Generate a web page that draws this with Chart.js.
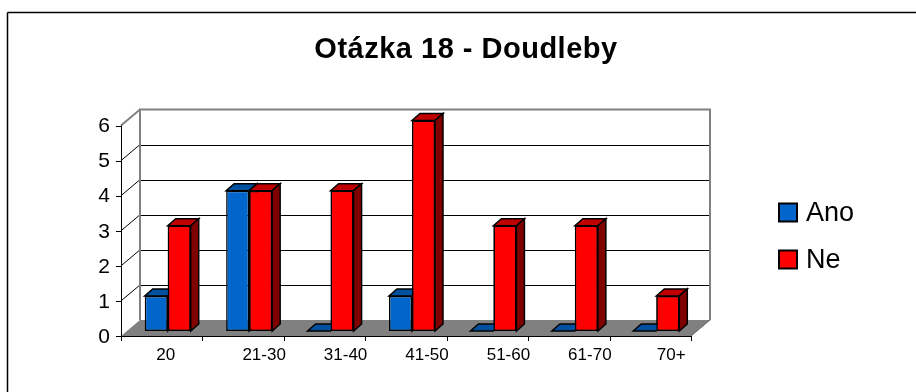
<!DOCTYPE html>
<html>
<head>
<meta charset="utf-8">
<title>Otázka 18 - Doudleby</title>
<script src="https://cdn.jsdelivr.net/npm/chart.js@4.4.1/dist/chart.umd.min.js"></script>
<style>
  html, body { margin: 0; padding: 0; background: #fff; }
  canvas { display: block; }
</style>
</head>
<body>
<canvas id="chart" width="916" height="392"></canvas>
<script>
// Age groups and answer counts
const categories = ['20', '21-30', '31-40', '41-50', '51-60', '61-70', '70+'];
const anoValues = [1, 4, 0, 1, 0, 0, 0];
const neValues = [3, 4, 4, 6, 3, 3, 1];
const yTicks = [0, 1, 2, 3, 4, 5, 6];
const seriesNames = ['Ano', 'Ne'];
const chartTitle = 'Otázka 18 - Doudleby';

// 3D look: offsets of the front and back planes relative to the bar plane,
// and the depth of each bar
const FRONT = { dx: -6, dy: 5 };
const BACK = { dx: 13, dy: -11 };
const BAR_DEPTH = { dx: 8, dy: -7 };
// the first category label sits nearer the value axis than the others
const FIRST_LABEL_SHIFT = -17;

const faceColors = [
  { front: '#0066CC', top: '#0050A0', side: '#003366' },
  { front: '#FF0000', top: '#C00000', side: '#800000' }
];

function poly(ctx, pts, fill, stroke, lw) {
  ctx.beginPath();
  ctx.moveTo(pts[0][0], pts[0][1]);
  for (let i = 1; i < pts.length; i++) ctx.lineTo(pts[i][0], pts[i][1]);
  ctx.closePath();
  if (fill) { ctx.fillStyle = fill; ctx.fill(); }
  if (stroke) { ctx.strokeStyle = stroke; ctx.lineWidth = lw || 1; ctx.lineJoin = 'miter'; ctx.stroke(); }
}

function line(ctx, x1, y1, x2, y2, color, lw) {
  ctx.beginPath();
  ctx.moveTo(x1, y1);
  ctx.lineTo(x2, y2);
  ctx.strokeStyle = color;
  ctx.lineWidth = lw;
  ctx.stroke();
}

// top and right faces of one bar element
function drawBarDepth(ctx, bar, cols) {
  const p = bar.getProps(['x', 'y', 'base', 'width'], true);
  const l = p.x - p.width / 2, r = p.x + p.width / 2;
  const t = Math.min(p.y, p.base), b = Math.max(p.y, p.base);
  const dx = BAR_DEPTH.dx, dy = BAR_DEPTH.dy;
  poly(ctx, [[l, t], [r, t], [r + dx, t + dy], [l + dx, t + dy]], cols.top, '#000', 1.5);
  if (b - t > 0.5) {
    poly(ctx, [[r, t], [r + dx, t + dy], [r + dx, b + dy], [r, b]], cols.side, '#000', 1.5);
  }
}

const box3d = {
  id: 'box3d',
  beforeDatasetsDraw(chart) {
    const ctx = chart.ctx;
    const xs = chart.scales.x, ys = chart.scales.y;
    const area = chart.chartArea;
    const y0 = ys.getPixelForValue(yTicks[0]);
    const yTop = ys.getPixelForValue(yTicks[yTicks.length - 1]);
    const fl = area.left + FRONT.dx, fr = area.right + FRONT.dx;
    const bl = area.left + BACK.dx, br = area.right + BACK.dx;
    ctx.save();

    // floor
    poly(ctx, [[fl, y0 + FRONT.dy], [fr, y0 + FRONT.dy], [br, y0 + BACK.dy], [bl, y0 + BACK.dy]], '#808080');
    line(ctx, fr, y0 + FRONT.dy, br, y0 + BACK.dy, '#606060', 1);

    // back wall gridlines and side wall diagonals
    yTicks.forEach(v => {
      const y = ys.getPixelForValue(v);
      const last = v === yTicks[yTicks.length - 1];
      if (v !== yTicks[0] && !last) {
        line(ctx, bl, Math.round(y + BACK.dy) + 0.5, br, Math.round(y + BACK.dy) + 0.5, '#000', 1);
      }
      if (v !== yTicks[0]) {
        line(ctx, fl, y + FRONT.dy, bl, y + BACK.dy, last ? '#808080' : '#000', last ? 2 : 1);
      }
    });

    // back wall outline
    ctx.beginPath();
    ctx.moveTo(bl, y0 + BACK.dy);
    ctx.lineTo(bl, yTop + BACK.dy);
    ctx.lineTo(br, yTop + BACK.dy);
    ctx.lineTo(br, y0 + BACK.dy);
    ctx.strokeStyle = '#808080';
    ctx.lineWidth = 2;
    ctx.stroke();

    // front value axis with tick marks and labels
    line(ctx, fl + 0.5, yTop + FRONT.dy, fl + 0.5, y0 + FRONT.dy + 1, '#000', 1);
    ctx.font = '21px "Liberation Sans", Arial, sans-serif';
    ctx.fillStyle = '#000';
    ctx.textAlign = 'right';
    ctx.textBaseline = 'middle';
    yTicks.forEach(v => {
      const y = ys.getPixelForValue(v) + FRONT.dy;
      line(ctx, fl - 5, Math.round(y) + 0.5, fl + 1, Math.round(y) + 0.5, '#000', 1);
      ctx.fillText(String(v), fl - 11, y + 1);
    });

    // front category axis with tick marks; labels sit under the back-plane centres
    line(ctx, fl, Math.round(y0 + FRONT.dy) + 0.5, fr, Math.round(y0 + FRONT.dy) + 0.5, '#000', 1);
    const n = categories.length;
    const step = (area.right - area.left) / n;
    for (let i = 0; i <= n; i++) {
      const x = Math.round(area.left + i * step + FRONT.dx) + 0.5;
      line(ctx, x, y0 + FRONT.dy, x, y0 + FRONT.dy + 5, '#000', 1);
    }
    ctx.font = '17px "Liberation Sans", Arial, sans-serif';
    ctx.textAlign = 'center';
    ctx.textBaseline = 'middle';
    categories.forEach((c, i) => {
      const shift = i === 0 ? FIRST_LABEL_SHIFT : 0;
      ctx.fillText(c, xs.getPixelForValue(i) + BACK.dx + 2 + shift, y0 + FRONT.dy + 19);
    });
    ctx.restore();
  },
  afterDatasetsDraw(chart) {
    const ctx = chart.ctx;
    ctx.save();
    // paint series in order: each bar's depth faces, then the next series on top
    chart.data.datasets.forEach((ds, i) => {
      const meta = chart.getDatasetMeta(i);
      if (i > 0) meta.data.forEach(bar => bar.draw(ctx, chart.chartArea));
      meta.data.forEach(bar => drawBarDepth(ctx, bar, faceColors[i]));
    });
    ctx.restore();
  },
  afterDraw(chart) {
    const ctx = chart.ctx;
    ctx.save();
    // chart frame (top and left edges)
    line(ctx, 7.5, 12.5, 916, 12.5, '#000', 1.5);
    line(ctx, 7.5, 12.5, 7.5, 392, '#000', 1.5);

    // title
    ctx.fillStyle = '#000';
    ctx.font = 'bold 29px "Liberation Sans", Arial, sans-serif';
    ctx.textAlign = 'center';
    ctx.textBaseline = 'alphabetic';
    if ('letterSpacing' in ctx) ctx.letterSpacing = '0.5px';
    ctx.fillText(chartTitle, 466, 58);
    if ('letterSpacing' in ctx) ctx.letterSpacing = '0px';

    // legend
    const ly = [213, 260];
    ctx.font = '27px "Liberation Sans", Arial, sans-serif';
    ctx.textAlign = 'left';
    ctx.textBaseline = 'middle';
    seriesNames.forEach((name, i) => {
      ctx.fillStyle = faceColors[i].front;
      ctx.fillRect(779, ly[i] - 9.5, 18, 18);
      ctx.strokeStyle = '#000';
      ctx.lineWidth = 2;
      ctx.strokeRect(779, ly[i] - 9.5, 18, 18);
      ctx.fillStyle = '#000';
      ctx.fillText(name, 806, ly[i] + 1);
    });
    ctx.restore();
  }
};

const datasets = [anoValues, neValues].map((vals, i) => ({
  label: seriesNames[i],
  data: vals,
  backgroundColor: faceColors[i].front,
  borderColor: '#000',
  borderWidth: 1.5,
  borderSkipped: false,
  categoryPercentage: 0.565,
  barPercentage: 1.0
}));

new Chart(document.getElementById('chart'), {
  type: 'bar',
  data: { labels: categories, datasets },
  options: {
    responsive: false,
    animation: false,
    devicePixelRatio: 1,
    layout: { padding: { left: 127, right: 219, top: 120.5, bottom: 61 } },
    plugins: {
      legend: { display: false },
      title: { display: false },
      tooltip: { enabled: false }
    },
    scales: {
      x: { display: false, offset: true },
      y: { display: false, min: yTicks[0], max: yTicks[yTicks.length - 1], ticks: { stepSize: 1 } }
    }
  },
  plugins: [box3d]
});
</script>
</body>
</html>
